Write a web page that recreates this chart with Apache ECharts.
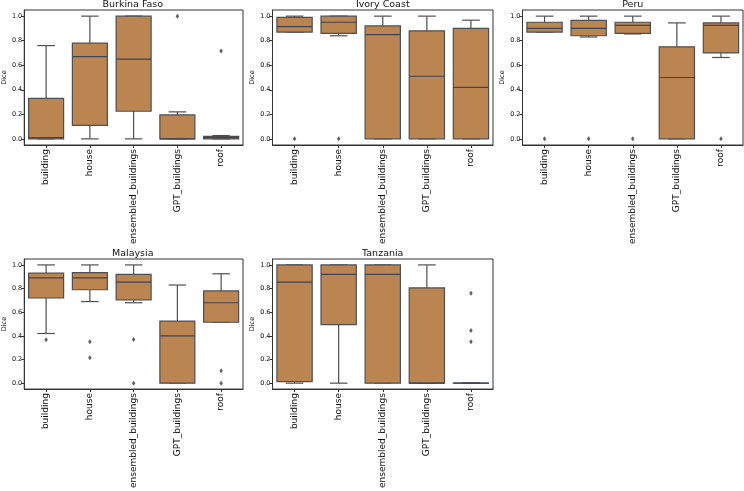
<!DOCTYPE html>
<html>
<head>
<meta charset="utf-8">
<script src="https://cdn.jsdelivr.net/npm/echarts@6/dist/echarts.min.js"></script>
<style>
  html, body { margin: 0; padding: 0; background: #fff; }
  #main { width: 744px; height: 491px; }
</style>
</head>
<body>
<div id="main"></div>
<script>
// categories on every x axis
let categories = ['building', 'house', 'ensembled_buildings', 'GPT_buildings', 'roof'];
let yTicks = [0, 0.2, 0.4, 0.6, 0.8, 1.0];
let countries = ['Burkina Faso', 'Ivory Coast', 'Peru', 'Malaysia', 'Tanzania'];

// [min, q1, median, q3, max] per category
let burkinaBoxes = [
	[0.0, 0.0, 0.01, 0.33, 0.76],
	[0.0, 0.11, 0.67, 0.78, 1.0],
	[0.0, 0.225, 0.65, 1.0, 1.0],
	[0.0, 0.0, 0.0, 0.195, 0.22],
	[0.0, 0.0, 0.01, 0.02, 0.027]
];
let burkinaOutliers = [[3, 1.0], [4, 0.715]];

let ivoryBoxes = [
	[0.87, 0.87, 0.915, 0.99, 1.0],
	[0.84, 0.86, 0.95, 1.0, 1.0],
	[0.0, 0.0, 0.85, 0.92, 1.0],
	[0.0, 0.0, 0.51, 0.88, 1.0],
	[0.0, 0.0, 0.42, 0.90, 0.967]
];
let ivoryOutliers = [[0, 0.0], [1, 0.0]];

let peruBoxes = [
	[0.87, 0.87, 0.90, 0.95, 1.0],
	[0.83, 0.84, 0.90, 0.965, 1.0],
	[0.855, 0.86, 0.924, 0.95, 1.0],
	[0.0, 0.0, 0.50, 0.75, 0.945],
	[0.663, 0.70, 0.924, 0.945, 1.0]
];
let peruOutliers = [[0, 0.0], [1, 0.0], [2, 0.0], [4, 0.0]];

let malaysiaBoxes = [
	[0.42, 0.72, 0.89, 0.93, 1.0],
	[0.69, 0.79, 0.89, 0.935, 1.0],
	[0.68, 0.705, 0.855, 0.92, 1.0],
	[0.0, 0.0, 0.40, 0.525, 0.83],
	[0.515, 0.515, 0.68, 0.78, 0.925]
];
let malaysiaOutliers = [[0, 0.367], [1, 0.35], [1, 0.215], [2, 0.37], [2, 0.0], [4, 0.105], [4, 0.0]];

let tanzaniaBoxes = [
	[0.0, 0.013, 0.855, 1.0, 1.0],
	[0.0, 0.495, 0.92, 1.0, 1.0],
	[0.0, 0.0, 0.92, 1.0, 1.0],
	[0.0, 0.0, 0.0, 0.805, 1.0],
	[0.0, 0.0, 0.0, 0.0, 0.0]
];
let tanzaniaOutliers = [[4, 0.76], [4, 0.445], [4, 0.35]];

let allBoxes = [burkinaBoxes, ivoryBoxes, peruBoxes, malaysiaBoxes, tanzaniaBoxes];
let allOutliers = [burkinaOutliers, ivoryOutliers, peruOutliers, malaysiaOutliers, tanzaniaOutliers];

// panel placement (px)
let panelLeft = [22.5, 272.5, 522.5, 22.5, 272.5];
let panelTop = [10, 10, 10, 259, 259];
let panelW = 220.5;
let panelH = 135;

let boxFill = '#BB8551';
let lineColor = '#4f4f52';
let medianColor = '#3c4456';
let frameColor = '#333';
let font = 'DejaVu Sans';

//画单个箱体：箱子、须线（半宽端帽）、中位线
function renderBox(params, api){
	let x = api.value(0);
	let lo = api.coord([x, api.value(1)]);
	let q1 = api.coord([x, api.value(2)]);
	let med = api.coord([x, api.value(3)]);
	let q3 = api.coord([x, api.value(4)]);
	let hi = api.coord([x, api.value(5)]);
	let band = api.size([1, 0])[0];
	let bw = band * 0.8;
	let cw = bw / 2;
	let cx = q1[0];
	let lineStyle = {stroke: lineColor, lineWidth: 1.2, fill: null};
	return {
		type: 'group',
		children: [
			{type: 'line', shape: {x1: cx, y1: q1[1], x2: cx, y2: lo[1]}, style: lineStyle},
			{type: 'line', shape: {x1: cx - cw / 2, y1: lo[1], x2: cx + cw / 2, y2: lo[1]}, style: lineStyle},
			{type: 'line', shape: {x1: cx, y1: q3[1], x2: cx, y2: hi[1]}, style: lineStyle},
			{type: 'line', shape: {x1: cx - cw / 2, y1: hi[1], x2: cx + cw / 2, y2: hi[1]}, style: lineStyle},
			{type: 'rect', shape: {x: cx - bw / 2, y: q3[1], width: bw, height: Math.max(q1[1] - q3[1], 0.01)},
				style: {fill: boxFill, stroke: lineColor, lineWidth: 1.2}},
			{type: 'line', shape: {x1: cx - bw / 2, y1: med[1], x2: cx + bw / 2, y2: med[1]},
				style: {stroke: medianColor, lineWidth: 1.2}}
		]
	};
}

let grids = [], xAxes = [], yAxes = [], titles = [], series = [];

for(let i = 0; i < countries.length; i++){
	grids.push({
		left: panelLeft[i], top: panelTop[i], width: panelW, height: panelH,
		show: true, borderColor: frameColor, borderWidth: 1, backgroundColor: '#fff'
	});
	titles.push({
		text: countries[i],
		left: panelLeft[i] + panelW / 2,
		top: panelTop[i] - 10.5,
		textAlign: 'center',
		padding: 0,
		textStyle: {fontSize: 9.5, fontWeight: 'normal', color: '#111', fontFamily: font}
	});
	xAxes.push({
		type: 'category', gridIndex: i, data: categories,
		axisLine: {show: true, onZero: false, lineStyle: {color: frameColor, width: 1}},
		axisTick: {show: true, alignWithLabel: true, length: 3, lineStyle: {color: '#333'}},
		axisLabel: {rotate: 90, fontSize: 9, margin: 4, color: '#111', fontFamily: font, interval: 0},
		splitLine: {show: false}
	});
	yAxes.push({
		type: 'value', gridIndex: i, min: -0.05, max: 1.05,
		name: 'Dice', nameLocation: 'middle', nameGap: 16,
		nameTextStyle: {fontSize: 6.5, color: '#111', fontFamily: font},
		axisLine: {show: true, onZero: false, lineStyle: {color: frameColor, width: 1}},
		axisTick: {show: true, length: 3, customValues: yTicks, lineStyle: {color: '#333'}},
		axisLabel: {customValues: yTicks, fontSize: 6.5, margin: 2, color: '#111', fontFamily: font,
			formatter: function(v){ return v.toFixed(1); }},
		splitLine: {show: false}
	});
	let boxData = allBoxes[i].map(function(b, k){ return [k].concat(b); });
	series.push({
		type: 'custom', xAxisIndex: i, yAxisIndex: i,
		renderItem: renderBox,
		encode: {x: 0, y: [1, 2, 3, 4, 5]},
		data: boxData,
		z: 2
	});
	series.push({
		type: 'scatter', xAxisIndex: i, yAxisIndex: i,
		symbol: 'diamond', symbolSize: [3.5, 5],
		itemStyle: {color: '#3a3a3a'},
		clip: false,
		data: allOutliers[i],
		z: 3
	});
}

let chart = echarts.init(document.getElementById('main'), null, {renderer: 'canvas'});
chart.setOption({
	animation: false,
	backgroundColor: '#fff',
	title: titles,
	grid: grids,
	xAxis: xAxes,
	yAxis: yAxes,
	series: series
});
</script>
</body>
</html>
